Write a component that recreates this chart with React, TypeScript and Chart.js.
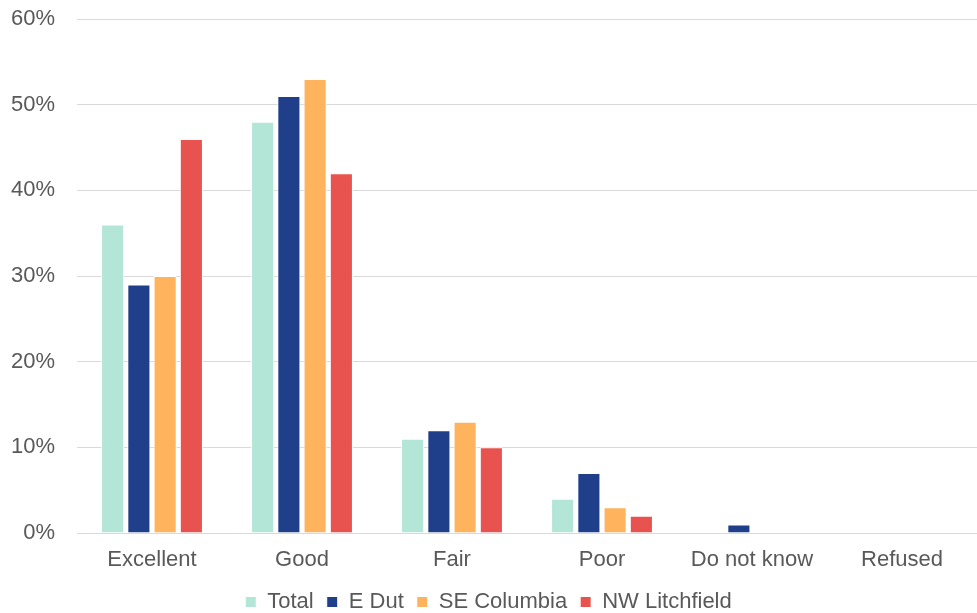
import React, { useEffect, useRef } from "react";
import { Chart, registerables } from "chart.js";

Chart.register(...registerables);

const categories = ["Excellent", "Good", "Fair", "Poor", "Do not know", "Refused"];
const seriesNames = ["Total", "E Dut", "SE Columbia", "NW Litchfield"];
const totalValues = [36, 48, 11, 4, 0, 0];
const eDutValues = [29, 51, 12, 7, 1, 0];
const seColumbiaValues = [30, 53, 13, 3, 0, 0];
const nwLitchfieldValues = [46, 42, 10, 2, 0, 0];
const seriesColors = ["#B3E6D6", "#1F3F8A", "#FFB35C", "#E8534F"];

export default function App() {
  const ref = useRef<HTMLCanvasElement | null>(null);
  useEffect(() => {
    if (!ref.current) return;
    const values = [totalValues, eDutValues, seColumbiaValues, nwLitchfieldValues];
    const font = { family: "'Liberation Sans', Arial, sans-serif", size: 22 };
    const chart = new Chart(ref.current, {
      type: "bar",
      data: {
        labels: categories,
        datasets: seriesNames.map((name, i) => ({
          label: name,
          data: values[i],
          backgroundColor: seriesColors[i],
          borderColor: "#FFFFFF",
          borderWidth: 1,
          categoryPercentage: 0.7,
          barPercentage: 0.88,
        })),
      },
      options: {
        animation: false,
        responsive: false,
        maintainAspectRatio: false,
        layout: { padding: { top: 19, left: 0, right: 0, bottom: -10 } },
        plugins: {
          tooltip: { enabled: false },
          legend: {
            position: "bottom",
            labels: {
              font,
              color: "#595959",
              boxWidth: 11,
              boxHeight: 11,
              padding: 13,
            },
          },
        },
        scales: {
          x: {
            grid: { display: false },
            border: { display: false },
            ticks: { font, color: "#595959", padding: 6 },
            afterFit: (s: any) => {
              s.height = 45;
            },
          },
          y: {
            min: 0,
            max: 60,
            afterFit: (s: any) => {
              s.width = 77;
              s.paddingTop = 0;
              s.paddingBottom = 0;
            },
            ticks: {
              stepSize: 10,
              font,
              color: "#595959",
              padding: 22,
              callback: (v: any) => v + "%",
            },
            grid: { color: "#D9D9D9", lineWidth: 1, drawTicks: false },
            border: { display: false },
          },
        },
      },
    });
    return () => chart.destroy();
  }, []);
  return (
    <div style={{ position: "fixed", left: 0, top: 0, width: 977, height: 613, background: "#fff" }}>
      <canvas ref={ref} width={977} height={613} />
    </div>
  );
}
